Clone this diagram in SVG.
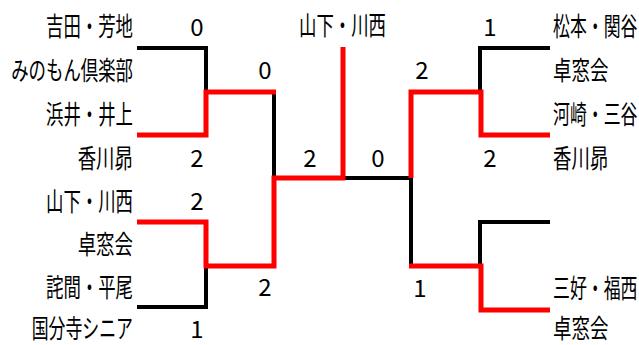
<svg xmlns="http://www.w3.org/2000/svg" width="639" height="345" viewBox="0 0 639 345">
<style>
text{font-family:"Noto Sans CJK JP","Noto Sans",sans-serif;font-size:26px;fill:#000}
.l{text-anchor:end}
.r{text-anchor:start}
.n{text-anchor:middle;font-size:24px}
.b{fill:none;stroke:#000;stroke-width:4;stroke-linejoin:miter}
.w{fill:none;stroke:#ff0000;stroke-width:5;stroke-linejoin:miter}
</style>
<rect width="639" height="345" fill="#fff"/>
<g id="connectors">
<polyline class="b" points="137,48 206,48 206,92"/>
<polyline class="b" points="137,307 206,307 206,266"/>
<polyline class="b" points="274,92 274,178"/>
<polyline class="b" points="343,178 411,178 411,266"/>
<polyline class="b" points="550,48 480,48 480,92"/>
<polyline class="b" points="550,222 480,222 480,266"/>
<polyline class="w" points="137,135 206,135 206,92 276,92"/>
<polyline class="w" points="137,222 206,222 206,266 274,266 274,178 343,178 343,47"/>
<polyline class="w" points="411,178 411,92 481,92 481,135 550,135"/>
<polyline class="w" points="409,266 481,266 481,310 550,310"/>
</g>
<g id="team-l1"><text class="l" transform="translate(133,36) scale(0.67,1)">吉田・芳地</text></g>
<g id="team-l2"><text class="l" transform="translate(133,80) scale(0.67,1)">みのもん倶楽部</text></g>
<g id="team-l3"><text class="l" transform="translate(133,124) scale(0.67,1)">浜井・井上</text></g>
<g id="team-l4"><text class="l" transform="translate(133,168) scale(0.71,1)">香川昴</text></g>
<g id="team-l5"><text class="l" transform="translate(133,211) scale(0.67,1)">山下・川西</text></g>
<g id="team-l6"><text class="l" transform="translate(133,254) scale(0.71,1)">卓窓会</text></g>
<g id="team-l7"><text class="l" transform="translate(133,297) scale(0.67,1)">詫間・平尾</text></g>
<g id="team-l8"><text class="l" transform="translate(133,337.5) scale(0.65,1)">国分寺シニア</text></g>
<g id="team-r1"><text class="r" transform="translate(553,36) scale(0.65,1)">松本・関谷</text></g>
<g id="team-r2"><text class="r" transform="translate(553,80) scale(0.71,1)">卓窓会</text></g>
<g id="team-r3"><text class="r" transform="translate(553,124) scale(0.65,1)">河崎・三谷</text></g>
<g id="team-r4"><text class="r" transform="translate(553,168) scale(0.71,1)">香川昴</text></g>
<g id="team-r5"><text class="r" transform="translate(553,298) scale(0.65,1)">三好・福西</text></g>
<g id="team-r6"><text class="r" transform="translate(553,337.5) scale(0.71,1)">卓窓会</text></g>
<g id="champion"><text class="l" transform="translate(386,35) scale(0.67,1)">山下・川西</text></g>
<g id="scores">
<text class="n" x="197" y="36">0</text>
<text class="n" x="197" y="167">2</text>
<text class="n" x="265" y="79">0</text>
<text class="n" x="197" y="210">2</text>
<text class="n" x="197" y="338">1</text>
<text class="n" x="265" y="296">2</text>
<text class="n" x="310" y="167">2</text>
<text class="n" x="378" y="167">0</text>
<text class="n" x="490" y="36">1</text>
<text class="n" x="490" y="167">2</text>
<text class="n" x="422" y="79">2</text>
<text class="n" x="420" y="297">1</text>
</g>
</svg>
